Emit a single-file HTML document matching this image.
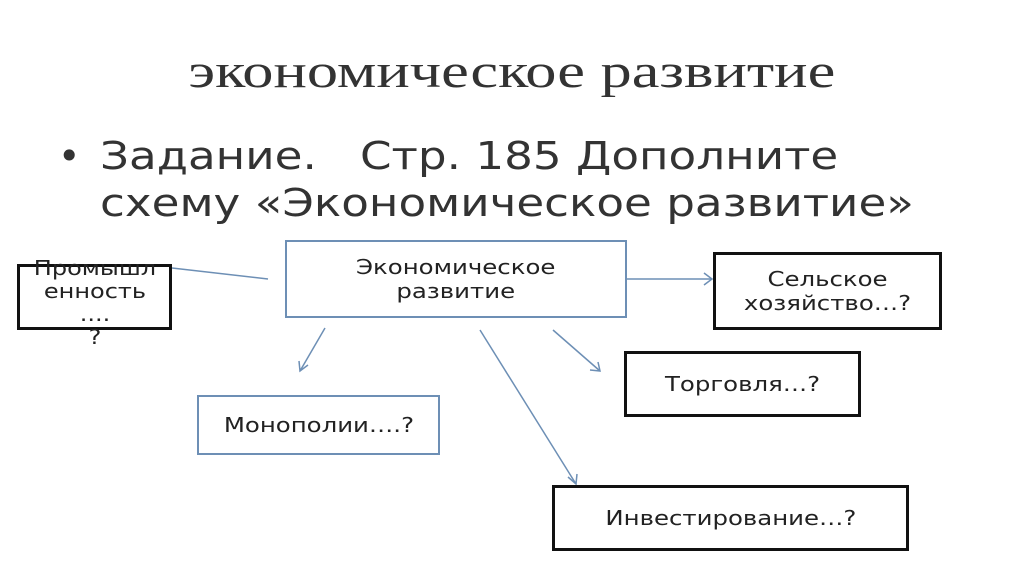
<!DOCTYPE html>
<html><head><meta charset="utf-8"><style>
body{margin:0;width:1024px;height:574px;background:#fff;position:relative;overflow:hidden;font-family:"DejaVu Sans","Liberation Sans",sans-serif;color:#222}
.t{position:absolute;white-space:nowrap}
.box{position:absolute;box-sizing:border-box;border:3px solid #111;display:flex;align-items:center;justify-content:center;text-align:center;font-size:20px;line-height:24px;color:#222}
.box span{display:inline-block;transform:scaleX(1.22);white-space:nowrap}
.blue{border:2px solid #6d8fb5}
</style></head><body>
<div class="t" style="left:0;width:1024px;text-align:center;top:44px;font-family:'Liberation Serif',serif;font-size:48px;color:#333"><span style="display:inline-block;transform:scaleX(1.3)">экономическое развитие</span></div>
<div class="t" style="left:58px;top:134px;font-size:38px;color:#333">•</div>
<div class="t" style="left:100px;top:134px;font-size:38px;color:#333;transform:scaleX(1.19);transform-origin:left">Задание.&nbsp;&nbsp;&nbsp;Стр. 185 Дополните</div>
<div class="t" style="left:100px;top:181px;font-size:38px;color:#333;transform:scaleX(1.19);transform-origin:left">схему «Экономическое развитие»</div>
<svg style="position:absolute;left:0;top:0" width="1024" height="574">
<g stroke="#6d8fb5" stroke-width="1.5" fill="none">
<line x1="172" y1="268" x2="268" y2="279"/>
<line x1="627" y1="279" x2="712" y2="279"/><polyline points="704,273 712,279 704,285"/>
<line x1="325" y1="328" x2="300" y2="371"/><polyline points="299,361 300,371 308,365"/>
<line x1="553" y1="330" x2="600" y2="371"/><polyline points="590,370 600,371 598,362"/>
<line x1="480" y1="330" x2="576" y2="484"/><polyline points="568,477 576,484 577,474"/>
</g></svg>
<div class="box blue" style="left:285px;top:240px;width:342px;height:78px"><span>Экономическое<br>развитие</span></div>
<div class="box" style="left:17px;top:264px;width:155px;height:66px;align-items:flex-start"><span style="margin-top:-10px;line-height:23px;transform:scaleX(1.2)">Промышл<br>енность<br>....<br>?</span></div>
<div class="box blue" style="left:197px;top:395px;width:243px;height:60px"><span>Монополии….?</span></div>
<div class="box" style="left:713px;top:252px;width:229px;height:78px"><span>Сельское<br>хозяйство…?</span></div>
<div class="box" style="left:624px;top:351px;width:237px;height:66px"><span>Торговля…?</span></div>
<div class="box" style="left:552px;top:485px;width:357px;height:66px"><span>Инвестирование…?</span></div>
</body></html>
